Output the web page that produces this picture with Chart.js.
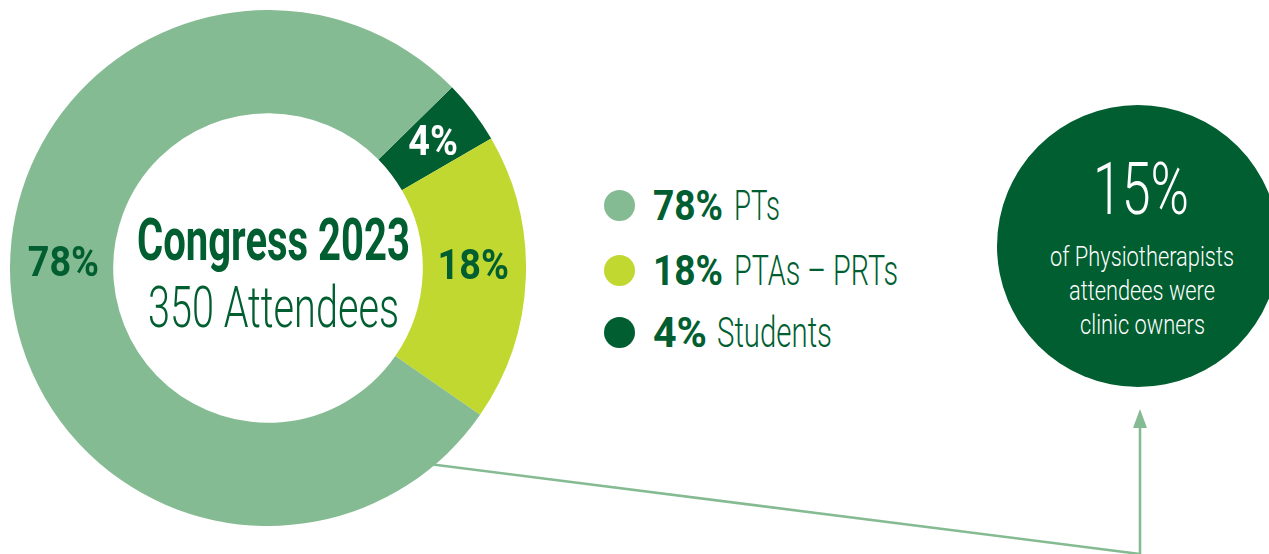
<!DOCTYPE html>
<html>
<head>
<meta charset="utf-8">
<title>Congress 2023</title>
<script src="https://cdn.jsdelivr.net/npm/chart.js@4.4.1/dist/chart.umd.min.js"></script>
<style>
  html, body { margin: 0; padding: 0; background: #fff; }
  body {
    position: relative; width: 1269px; height: 554px; overflow: hidden;
    font-family: Roboto, "Open Sans", sans-serif;
    color: #005e30;
  }
  #conector { position: absolute; left: 0; top: 0; z-index: 0; }
  #wrapDona { position: absolute; left: 10px; top: 10px; width: 516px; height: 516px; z-index: 1; }
  .punto { position: absolute; width: 31px; height: 31px; border-radius: 50%; z-index: 2; }
  .txt { position: absolute; line-height: 0; white-space: nowrap; transform-origin: left center; z-index: 3; }
  #burbuja { position: absolute; left: 997px; top: 105px; width: 282px; height: 282px; border-radius: 50%; background: #005e30; z-index: 2; }
</style>
</head>
<body>

<svg id="conector" width="1269" height="554">
  <line x1="429" y1="464" x2="1140" y2="554" stroke="#85bb92" stroke-width="2.6" />
  <line x1="1140" y1="554" x2="1140" y2="425" stroke="#85bb92" stroke-width="2.6" />
  <polygon points="1140,409 1133,428 1147,428" fill="#85bb92" />
</svg>

<div id="wrapDona"><canvas id="chartDona"></canvas></div>
<div id="burbuja"></div>

<script>
// datos
const categorias = ["PTs", "PTAs – PRTs", "Students"];
const porcentajes = [78, 18, 4];
const tituloCentro = "Congress 2023";
const subtituloCentro = "350 Attendees";
const pctDuenos = 15;
const textoDuenos = ["of Physiotherapists", "attendees were", "clinic owners"];

let chartDona = null;
const medidor = document.createElement("canvas").getContext("2d");

document.addEventListener("DOMContentLoaded", function () {
  pintarDona();
  pintarLeyenda();
  pintarBurbuja();
});

function anchoNatural(txt, font) {
  medidor.font = font;
  return medidor.measureText(txt).width || 1;
}

// la fuente original es condensada: se estira cada texto al ancho medido
function ponerTexto(txt, x, base, size, peso, ancho, color) {
  const font = peso + " " + size + "px Roboto, 'Open Sans', sans-serif";
  const sx = ancho / anchoNatural(txt, font);
  const el = document.createElement("div");
  el.className = "txt";
  el.textContent = txt;
  el.style.font = font;
  el.style.lineHeight = "0";
  el.style.left = x + "px";
  el.style.top = (base - 0.342 * size) + "px";
  el.style.color = color;
  el.style.transform = "scaleX(" + sx + ")";
  document.body.appendChild(el);
}

function pintarLeyenda() {
  const colores = ["#85bb92", "#c1d831", "#005e30"];
  const bases = [220, 285, 347];
  const anchoPct = [70, 70, 54];
  const xNombre = [734, 734, 717];
  const anchoNombre = [46, 164, 115];
  for (let i = 0; i < categorias.length; i++) {
    const p = document.createElement("div");
    p.className = "punto";
    p.style.left = "604px";
    p.style.top = (bases[i] - 30.5) + "px";
    p.style.background = colores[i];
    document.body.appendChild(p);
    ponerTexto(porcentajes[i] + "%", 653, bases[i], 42, 700, anchoPct[i], "#005e30");
    ponerTexto(categorias[i], xNombre[i], bases[i], 42, 300, anchoNombre[i], "#005e30");
  }
}

function pintarBurbuja() {
  ponerTexto(pctDuenos + "%", 1093, 215, 72, 300, 96, "#ffffff");
  const anchos = [184, 146, 125];
  const bases = [266, 300, 334];
  for (let i = 0; i < textoDuenos.length; i++) {
    ponerTexto(textoDuenos[i], 1142 - anchos[i] / 2, bases[i], 27, 300, anchos[i], "#ffffff");
  }
}

function textoAjustado(ctx, txt, cx, base, ancho) {
  const sx = ancho / (ctx.measureText(txt).width || 1);
  ctx.save();
  ctx.translate(cx, base);
  ctx.scale(sx, 1);
  ctx.textAlign = "center";
  ctx.textBaseline = "alphabetic";
  ctx.fillText(txt, 0, 0);
  ctx.restore();
}

const pluginEtiquetas = {
  id: "etiquetas",
  afterDatasetsDraw: function (chart) {
    const ctx = chart.ctx;
    const ds = chart.data.datasets[0];
    const arcos = chart.getDatasetMeta(0).data;
    for (let i = 0; i < arcos.length; i++) {
      const p = arcos[i].tooltipPosition();
      ctx.save();
      ctx.font = "bold 42px Roboto, 'Open Sans', sans-serif";
      ctx.fillStyle = ds.labelColor[i];
      const txt = ds.data[i] + "%";
      const ancho = ctx.measureText(txt).width * 0.9;
      textoAjustado(ctx, txt, p.x + ds.labelDx[i], p.y + ds.labelDy[i] + 15, ancho);
      ctx.restore();
    }
  }
};

const pluginCentro = {
  id: "centro",
  afterDraw: function (chart) {
    const ctx = chart.ctx;
    const a = chart.chartArea;
    const cx = (a.left + a.right) / 2;
    const cy = (a.top + a.bottom) / 2;
    ctx.save();
    ctx.fillStyle = "#005e30";
    ctx.font = "bold 59px Roboto, 'Open Sans', sans-serif";
    textoAjustado(ctx, tituloCentro, cx + 5.5, cy - 8, 273);
    ctx.font = "300 58px Roboto, 'Open Sans', sans-serif";
    textoAjustado(ctx, subtituloCentro, cx + 5.5, cy + 59, 251);
    ctx.restore();
  }
};

function pintarDona() {
  const canvas = document.getElementById("chartDona");
  if (!canvas) return;
  const ctx = canvas.getContext("2d");
  if (chartDona) chartDona.destroy();

  // en el circulo van en sentido horario: students, ptas, pts
  const labels = categorias.slice().reverse();
  const data = porcentajes.slice().reverse();

  chartDona = new Chart(ctx, {
    type: "doughnut",
    data: {
      labels: labels,
      datasets: [{
        data: data,
        backgroundColor: ["#005e30", "#c1d831", "#85bb92"],
        borderWidth: 0,
        labelColor: ["#ffffff", "#005e30", "#005e30"],
        labelDx: [1, -1, 1],
        labelDy: [-3, -12, -25]
      }]
    },
    options: {
      responsive: true,
      maintainAspectRatio: false,
      animation: false,
      cutout: "60%",
      rotation: 45.5,
      layout: { padding: 0 },
      plugins: {
        legend: { display: false },
        tooltip: { enabled: false }
      }
    },
    plugins: [pluginEtiquetas, pluginCentro]
  });
}
</script>
</body>
</html>
